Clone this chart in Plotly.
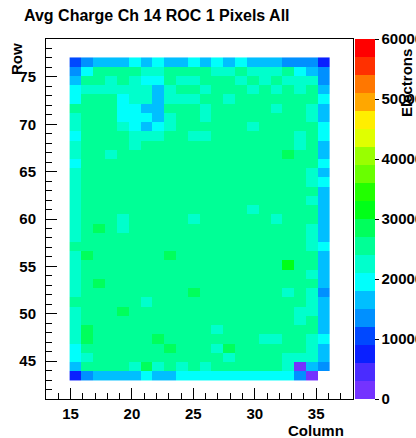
import plotly.graph_objects as go

# ---------------- text ----------------
TITLE = "Avg Charge Ch 14 ROC 1 Pixels All"
X_TITLE = "Column"
Y_TITLE = "Row"
Z_TITLE = "Electrons"

# ---------------- histogram binning (as drawn) ----------------
X_MIN, X_MAX, X_NBINS = 13, 38, 26
Y_MIN, Y_MAX, Y_NBINS = 41, 79, 39
Z_MIN, Z_MAX, Z_CONTOURS = 0, 60000, 20
X_TICK_STEP, Y_TICK_STEP = 5, 5
Z_TICKS = [0, 10000, 20000, 30000, 40000, 50000, 60000]

# ---------------- data ----------------
COLUMNS = list(range(15, 37))      # 22 pixel columns, left -> right
ROWS = list(range(77, 42, -1))     # 35 pixel rows, top -> bottom

# estimated average charge (electrons) for each colour
CHARGE = {
    "V": 1500, "B": 7500, "b": 10500, "a": 13500, "s": 16500,
    "c": 19500, "q": 22500, "g": 25500, "G": 28500, "H": 31500,
    ".": None,
}

# one string per row (row 77 first), one letter per column (15..36)
PIXEL_MAP = [
    "basss cscss cscsc sssaa aB",  # 77
    "acggg gqqgg ggqqg qqqgc sa",  # 76
    "sggqg qccgq qgggq gqgqq qa",  # 75
    "cqqqq qqsqg gqggg qgqgq gs",  # 74
    "cgggc qqsqq qggqg ggggg gc",  # 73
    "ggggc cssgg gqggg ggqgg qs",  # 72
    "qgggc ccsqg gqggg ggggg qs",  # 71
    "qgggq cscqg ggggg qgggg gc",  # 70
    "cgggg qqqgg qqggg ggggq gc",  # 69
    "qgggg qgggg ggggg ggggq gs",  # 68
    "qggqg ggggg ggggg gggGg gs",  # 67
    "cgggg ggggg ggggg ggggg gc",  # 66
    "qgggg ggggg ggggg ggggg qs",  # 65
    "qgggg ggggg ggggg ggggg qc",  # 64
    "qgggg ggggg ggggg ggggg gs",  # 63
    "qgggg ggggg ggggg ggggg qs",  # 62
    "qgggg ggggg ggggg qgggg gs",  # 61
    "qgggq ggggg qgggg ggqgg gs",  # 60
    "qgGgq ggggg ggggg ggggg qs",  # 59
    "qgggg ggggg ggggg ggggg qs",  # 58
    "ggggg ggggg ggggg ggggg qc",  # 57
    "qGggg gggGg ggggg ggggg gs",  # 56
    "qgggg ggggg ggggg gggHg gs",  # 55
    "qgggg ggggg ggggg ggggg qs",  # 54
    "qgGgg ggggg ggggg ggggg gs",  # 53
    "qgggg ggggg Ggggg gggqg qa",  # 52
    "ggggg gqggg ggggg ggggg qs",  # 51
    "qgggG ggggg ggggg ggggq qs",  # 50
    "qgggg ggggg ggggg ggggq gs",  # 49
    "qGggg ggggg ggqgg ggggg gs",  # 48
    "qGggg ggGgg ggggg gqqgg qc",  # 47
    "cgggg gggGg ggqGg ggggg qs",  # 46
    "cqggg ggggg gggqg gggqq qs",  # 45
    "sgggg qGqgq gqggg gggqV sa",  # 44
    "Basss scssc ccccc cccca V.",  # 43
]

# ROOT "pretty" palette, 20 contour bands (violet -> red)
BAND_COLORS = [
    "#7433ff", "#4a2cff", "#0a20ff", "#0048ff", "#0090ff",
    "#00bfff", "#00fffc", "#00ffcc", "#00ff96", "#00ff5c",
    "#00ff18", "#22ff00", "#69ff00", "#99ff00", "#e0ff00",
    "#ffee00", "#ffa700", "#ff7700", "#ff3000", "#ff0000",
]

# ---------------- build ----------------
xw = (X_MAX - X_MIN) / X_NBINS
yw = (Y_MAX - Y_MIN) / Y_NBINS
x_centers = [X_MIN + (c - X_MIN + 0.5) * xw for c in COLUMNS]
rows_asc = ROWS[::-1]
map_asc = PIXEL_MAP[::-1]
y_centers = [Y_MIN + (r - Y_MIN + 0.5) * yw for r in rows_asc]
z = []
for line in map_asc:
    cells = [CHARGE[ch] for ch in line.replace(" ", "")]
    assert len(cells) == len(COLUMNS), line
    z.append(cells)

colorscale = []
for k, col in enumerate(BAND_COLORS):
    colorscale.append([k / Z_CONTOURS, col])
    colorscale.append([(k + 1) / Z_CONTOURS, col])

FONT = "Liberation Sans, Arial, Helvetica, sans-serif"

# plot-area geometry (px)
W, H = 416, 438
L, R, T, B = 46, 63, 39, 39
PW, PH = W - L - R, H - T - B


def px_x(px):
    return (px - L) / PW


def px_y(py):
    return (H - B - py) / PH


fig = go.Figure(go.Heatmap(
    x=x_centers, y=y_centers, z=z,
    zmin=Z_MIN, zmax=Z_MAX, zsmooth=False,
    colorscale=colorscale, hoverongaps=False,
    colorbar=dict(
        x=px_x(355), xanchor="left", xpad=0, ypad=0,
        y=0.5, yanchor="middle", len=1, lenmode="fraction",
        thickness=20, thicknessmode="pixels", outlinewidth=0,
        tickvals=Z_TICKS, ticktext=[str(v) for v in Z_TICKS],
        ticks="outside", ticklen=4, tickwidth=1, tickcolor="black",
        tickfont=dict(family=FONT, size=15, color="black", weight="bold"),
    ),
))

axis_common = dict(
    automargin=False,
    showgrid=False, zeroline=False, showline=True, linecolor="black",
    linewidth=1, mirror=True, ticks="inside", ticklen=11, tickwidth=1,
    tickcolor="black", tick0=0,
    minor=dict(ticks="inside", ticklen=6, dtick=1, tick0=0,
               tickcolor="black", tickwidth=1, showgrid=False),
    tickfont=dict(family=FONT, size=15, color="black", weight="bold"),
)
fig.update_xaxes(range=[X_MIN, X_MAX], dtick=X_TICK_STEP,
                 ticklabelstandoff=1, **axis_common)
fig.update_yaxes(range=[Y_MIN, Y_MAX], dtick=Y_TICK_STEP,
                 ticklabelstandoff=6, **axis_common)

fig.update_layout(
    template="none",
    width=W, height=H,
    margin=dict(l=L, r=R, t=T, b=B, pad=0, autoexpand=False),
    paper_bgcolor="white", plot_bgcolor="white",
    font=dict(family=FONT, size=15, color="black"),
    title=dict(text=TITLE, x=24 / W, xref="container", xanchor="left",
               y=1 - 15 / H, yref="container", yanchor="middle",
               font=dict(family=FONT, size=16, color="black", weight="bold")),
    annotations=[
        dict(text=Y_TITLE, xref="paper", yref="paper", x=px_x(17), y=px_y(41),
             xanchor="center", yanchor="top", textangle=-90, showarrow=False,
             font=dict(family=FONT, size=15, color="black", weight="bold")),
        dict(text=X_TITLE, xref="paper", yref="paper", x=px_x(346), y=px_y(431),
             xanchor="right", yanchor="middle", showarrow=False,
             font=dict(family=FONT, size=15, color="black", weight="bold")),
        dict(text=Z_TITLE, xref="paper", yref="paper", x=px_x(406), y=px_y(47),
             xanchor="center", yanchor="top", textangle=-90, showarrow=False,
             font=dict(family=FONT, size=15, color="black", weight="bold")),
    ],
    showlegend=False,
)

# remove the browser's default page margin so the figure sits at (0, 0)
fig.write_html(
    "out.html",
    config={"displayModeBar": False},
    post_script="document.body.style.margin='0';document.body.style.padding='0';",
)
